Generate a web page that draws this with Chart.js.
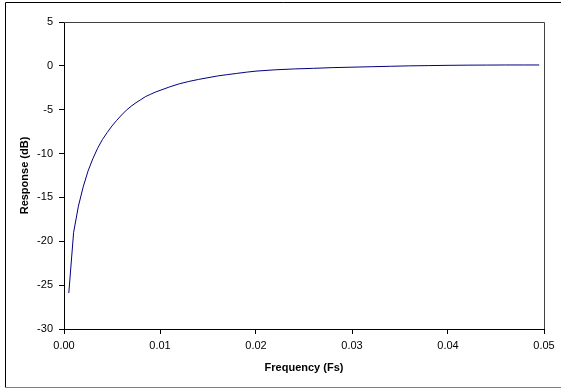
<!DOCTYPE html>
<html>
<head>
<meta charset="utf-8">
<script src="https://cdn.jsdelivr.net/npm/chart.js@4/dist/chart.umd.min.js"></script>
<style>
    html, body { margin: 0; padding: 0; background: #fff; }
    #wrap { width: 561px; height: 388px; }
</style>
</head>
<body>
<div id="wrap"><canvas id="chart"></canvas></div>
<script>
// frequency (Fs) and response (dB)
const freq = [
    0.0005, 0.001, 0.0015, 0.002, 0.0025, 0.003, 0.0035, 0.004, 0.0045, 0.005,
    0.0055, 0.006, 0.0065, 0.007, 0.0075, 0.008, 0.0085, 0.009, 0.0095, 0.010,
    0.011, 0.012, 0.013, 0.014, 0.015, 0.016, 0.017, 0.018, 0.019, 0.020,
    0.022, 0.024, 0.026, 0.028, 0.030, 0.032, 0.034, 0.036, 0.038, 0.040,
    0.042, 0.044, 0.046, 0.048, 0.0495
]
const response = [
    -25.9, -19.0, -16.0, -13.8, -12.0, -10.6, -9.4, -8.4, -7.6, -6.85,
    -6.2, -5.6, -5.05, -4.6, -4.2, -3.85, -3.5, -3.25, -3.0, -2.8,
    -2.4, -2.05, -1.78, -1.55, -1.35, -1.15, -1.0, -0.86, -0.72, -0.6,
    -0.45, -0.35, -0.28, -0.2, -0.15, -0.1, -0.05, 0.0, 0.03, 0.06,
    0.08, 0.09, 0.1, 0.1, 0.1
]
const xTitle = 'Frequency (Fs)'
const yTitle = 'Response (dB)'

const frame = {
    id: 'frame',
    afterDraw(chart) {
        const ctx = chart.ctx
        const a = chart.chartArea
        ctx.save()
        ctx.lineWidth = 1
        // plot area top and right edges
        ctx.strokeStyle = '#404040'
        ctx.beginPath()
        ctx.moveTo(a.left, a.top + 0.5)
        ctx.lineTo(a.right + 0.5, a.top + 0.5)
        ctx.lineTo(a.right + 0.5, a.bottom)
        ctx.stroke()
        // outer chart border (left, top, bottom)
        ctx.strokeStyle = '#000'
        ctx.beginPath()
        ctx.moveTo(561, 2.5)
        ctx.lineTo(5.5, 2.5)
        ctx.lineTo(5.5, 387)
        ctx.stroke()
        ctx.strokeStyle = '#808080'
        ctx.beginPath()
        ctx.moveTo(5, 387.5)
        ctx.lineTo(561, 387.5)
        ctx.stroke()
        ctx.restore()
    }
}

const font = { family: 'Liberation Sans, Arial, sans-serif', size: 11 }
const bold = { family: 'Liberation Sans, Arial, sans-serif', size: 11, weight: 'bold' }

new Chart(document.getElementById('chart'), {
    type: 'scatter',
    data: {
        datasets: [{
            data: freq.map((f, i) => ({ x: f, y: response[i] })),
            showLine: true,
            borderColor: '#000080',
            borderWidth: 1,
            pointRadius: 0,
            tension: 0
        }]
    },
    options: {
        responsive: true,
        maintainAspectRatio: false,
        animation: false,
        layout: { padding: { left: 0, top: 22, right: 17, bottom: 0 } },
        plugins: {
            legend: { display: false },
            tooltip: { enabled: false }
        },
        scales: {
            x: {
                type: 'linear',
                min: 0,
                max: 0.05,
                afterFit(scale) { scale.height = 59 },
                ticks: {
                    stepSize: 0.01,
                    color: '#000',
                    font: font,
                    padding: 5,
                    maxRotation: 0,
                    callback: v => v.toFixed(2)
                },
                grid: { drawOnChartArea: false, tickLength: 5, color: '#000' },
                border: { color: '#000', width: 1 },
                title: { display: true, text: xTitle, color: '#000', font: bold, padding: { top: 0, bottom: 13 } }
            },
            y: {
                min: -30,
                max: 5,
                afterFit(scale) { scale.width = 64 },
                ticks: {
                    stepSize: 5,
                    color: '#000',
                    font: font,
                    padding: 6
                },
                grid: { drawOnChartArea: false, tickLength: 5, color: '#000' },
                border: { color: '#000', width: 1 },
                title: { display: true, text: yTitle, color: '#000', font: bold, padding: { top: 18, bottom: 0 } }
            }
        }
    },
    plugins: [frame]
})
</script>
</body>
</html>
